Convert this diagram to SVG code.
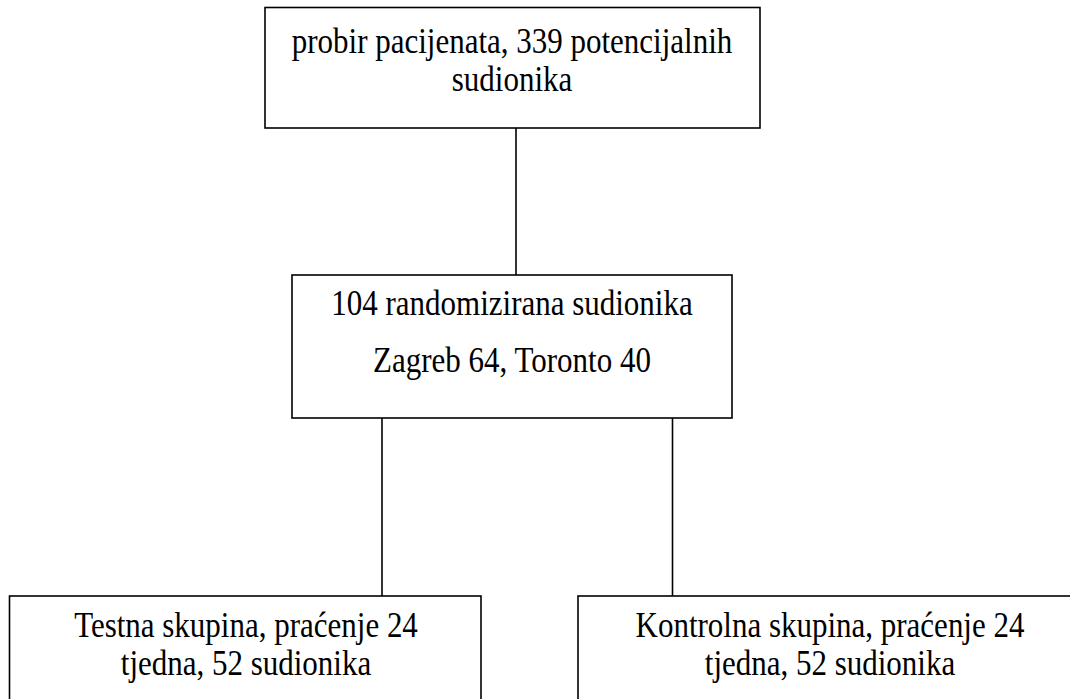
<svg xmlns="http://www.w3.org/2000/svg" width="1070" height="699" viewBox="0 0 1070 699">
<style>
.box{fill:#ffffff;stroke:#000000;stroke-width:1.6}
.conn{stroke:#000000;stroke-width:1.6;fill:none}
.t{font-family:"Liberation Serif","Times New Roman",serif;font-size:31px;fill:#000000;text-anchor:middle}
</style>
<rect width="1070" height="699" fill="#ffffff"/>
<g id="connectors">
<line class="conn" x1="516" y1="128" x2="516" y2="275"/>
<line class="conn" x1="382" y1="418" x2="382" y2="596"/>
<line class="conn" x1="672.5" y1="418" x2="672.5" y2="596"/>
</g>
<g id="node-probir">
<rect class="box" x="265" y="7.5" width="495" height="120.5"/>
<text class="t" transform="translate(512,53) scale(1,1.13)">probir pacijenata, 339 potencijalnih</text>
<text class="t" transform="translate(512,91) scale(1,1.13)">sudionika</text>
</g>
<g id="node-randomizirani">
<rect class="box" x="292" y="275" width="440" height="143"/>
<text class="t" transform="translate(512,315) scale(1,1.13)">104 randomizirana sudionika</text>
<text class="t" transform="translate(512,372) scale(1,1.13)">Zagreb 64, Toronto 40</text>
</g>
<g id="node-testna">
<rect class="box" x="9.5" y="596" width="471.5" height="120"/>
<text class="t" transform="translate(246,637) scale(1,1.13)">Testna skupina, praćenje 24</text>
<text class="t" transform="translate(246,675) scale(1,1.13)">tjedna, 52 sudionika</text>
</g>
<g id="node-kontrolna">
<rect class="box" x="578" y="596" width="505" height="120"/>
<text class="t" transform="translate(830,637) scale(1,1.13)">Kontrolna skupina, praćenje 24</text>
<text class="t" transform="translate(830,675) scale(1,1.13)">tjedna, 52 sudionika</text>
</g>
</svg>
